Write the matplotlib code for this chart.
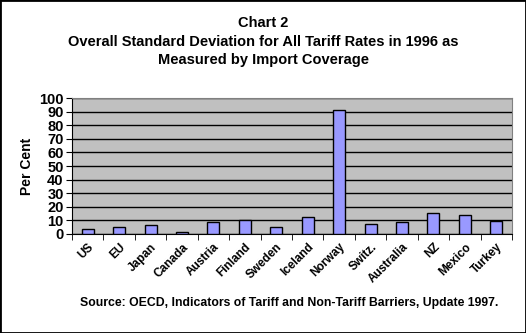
import matplotlib
matplotlib.use("Agg")
import matplotlib.pyplot as plt
from matplotlib.patches import Rectangle
import numpy as np

countries = ["US", "EU", "Japan", "Canada", "Austria", "Finland", "Sweden",
             "Iceland", "Norway", "Switz.", "Australia", "NZ", "Mexico", "Turkey"]
values = [3.5, 5.1, 6.6, 1.5, 8.6, 10.0, 5.1, 12.5, 91.2, 7.4, 8.6, 15.2, 13.7, 9.3]
yticks = list(range(0, 101, 10))

plt.rcParams['font.family'] = ['Liberation Sans', 'DejaVu Sans']
plt.rcParams['font.weight'] = 'bold'

fig = plt.figure(figsize=(5.26, 3.33), dpi=100)
fig.patches.append(Rectangle((0, 0), 1, 1, transform=fig.transFigure,
                             fill=False, edgecolor='black', linewidth=2))

ax = fig.add_axes([0.1369, 0.2973, 0.8365, 0.4084])
ax.set_facecolor('#C0C0C0')
x = np.arange(len(countries))
ax.bar(x, values, width=0.38, color='#9999FF', edgecolor='black', linewidth=1, zorder=3)
ax.set_xlim(-0.5, len(countries) - 0.5)
ax.set_ylim(0, 100)
ax.set_yticks(yticks)
ax.set_yticklabels([str(t) for t in yticks], fontsize=10.5, fontweight='bold')
ax.yaxis.grid(True, color='black', linewidth=1, zorder=1)
ax.set_axisbelow(True)

ax.set_xticks(x)
ax.set_xticklabels(countries, rotation=45, ha='right', rotation_mode='anchor',
                   fontsize=8.5, fontweight='bold')
ax.tick_params(axis='x', which='major', length=0, pad=5)
ax.set_xticks(np.arange(-0.5, len(countries), 1), minor=True)
ax.tick_params(axis='x', which='minor', length=4, direction='out', color='black')
ax.tick_params(axis='y', length=4, direction='out', pad=2)

for s in ['top', 'right']:
    ax.spines[s].set_color('#808080')
ax.spines['left'].set_color('black')
ax.spines['bottom'].set_color('black')

ax.set_ylabel("Per Cent", fontsize=10, fontweight='bold', labelpad=4)

fig.text(0.5, 1 - 23/333, "Chart 2", ha='center', va='center', fontsize=10.5, fontweight='bold')
fig.text(0.5, 1 - 42/333, "Overall Standard Deviation for All Tariff Rates in 1996 as",
         ha='center', va='center', fontsize=10.5, fontweight='bold')
fig.text(0.5, 1 - 60/333, "Measured by Import Coverage", ha='center', va='center',
         fontsize=10.5, fontweight='bold')
fig.text(498/526, 1 - 303/333, "Source: OECD, Indicators of Tariff and Non-Tariff Barriers, Update 1997.",
         ha='right', va='center', fontsize=8.8, fontweight='bold')

fig.savefig("out.png", dpi=100)
